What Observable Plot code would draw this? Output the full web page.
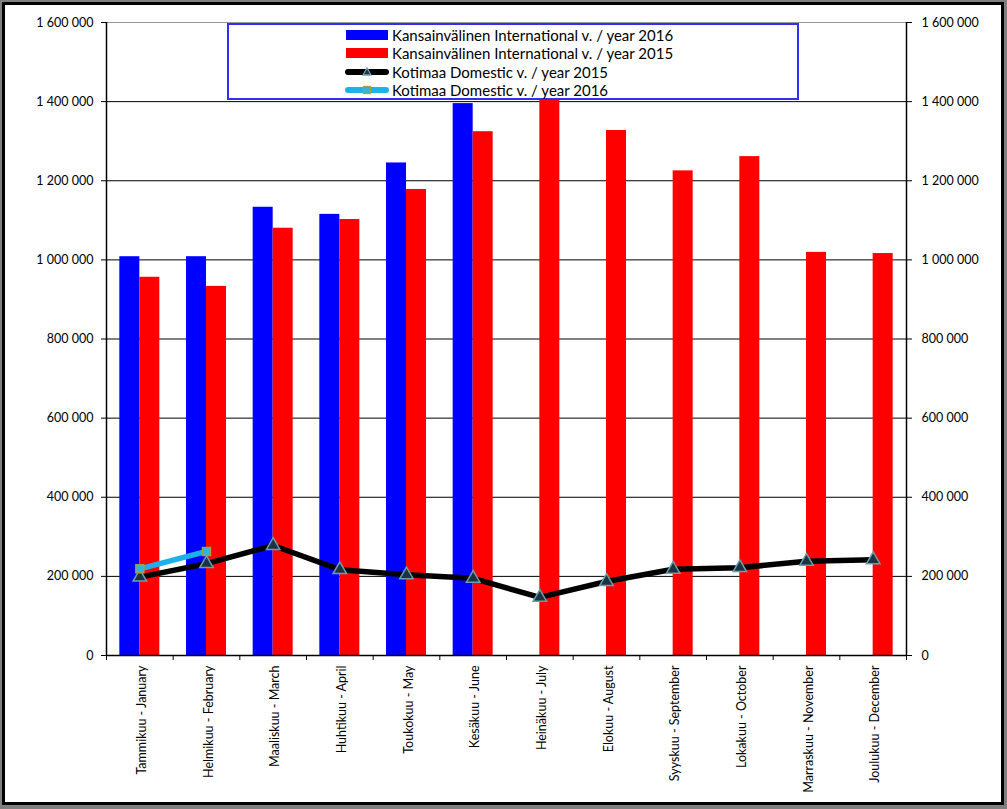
<!DOCTYPE html>
<html>
<head>
<meta charset="utf-8">
<script src="https://cdn.jsdelivr.net/npm/d3@7"></script>
<script src="https://cdn.jsdelivr.net/npm/@observablehq/plot@0.6"></script>
<style>
  html, body { margin: 0; padding: 0; background: #7f7f7f; }
  #wrap { position: relative; width: 1007px; height: 809px; overflow: hidden; background: #7f7f7f; }
  #frame { position: absolute; left: 2px; top: 2px; width: 1002px; height: 803px; border: 3px solid #000; box-sizing: border-box; background: #fff; }
  #chart { position: absolute; left: 0; top: 0; }
  #legend { position: absolute; left: 227px; top: 23px; width: 572px; height: 77px; border: 2px solid #3030ee; background: #fff; box-sizing: border-box; font-family: Lato, "Open Sans", sans-serif; font-size: 15px; color: #000; }
  .row { position: absolute; left: 116px; height: 19px; display: flex; align-items: center; white-space: nowrap; }
  .row svg { margin-right: 3px; }
</style>
</head>
<body>
<div id="wrap">
  <div id="frame"></div>
  <div id="chart"></div>
  <div id="legend"></div>
</div>
<script>
const months = [
  "Tammikuu - January", "Helmikuu - February", "Maaliskuu - March", "Huhtikuu - April",
  "Toukokuu - May", "Kesäkuu - June", "Heinäkuu - July", "Elokuu - August",
  "Syyskuu - September", "Lokakuu - October", "Marraskuu - November", "Joulukuu - December"
];
const intl2016 = [1008000, 1008000, 1133000, 1115000, 1245000, 1395000];
const intl2015 = [956000, 933000, 1080000, 1102000, 1178000, 1324000, 1410000, 1327000, 1225000, 1261000, 1019000, 1016000];
const dom2015 = [198000, 232000, 278000, 217000, 204000, 195000, 147000, 187000, 218000, 222000, 238000, 242000];
const dom2016 = [219000, 263000];
const yTicks = [0, 200000, 400000, 600000, 800000, 1000000, 1200000, 1400000, 1600000];
const seriesNames = [
  "Kansainvälinen International v. / year 2016",
  "Kansainvälinen International v. / year 2015",
  "Kotimaa Domestic v. / year 2015",
  "Kotimaa Domestic v. / year 2016"
];

const colors = { intl2016: "#0000ff", intl2015: "#ff0000", dom2015: "#000000", dom2016: "#1eb0e8" };

const W = 1007, H = 809;
const mL = 106, mR = 101, mT = 22, mB = 154;
const bw = (W - mL - mR) / months.length;
const barW = 20;

const fmt = d3.formatLocale({decimal: ",", thousands: " ", grouping: [3], currency: ["", ""]}).format(",d");

const b16 = intl2016.map((v, i) => ({month: months[i], value: v}));
const b15 = intl2015.map((v, i) => ({month: months[i], value: v}));
const l15 = dom2015.map((v, i) => ({month: months[i], value: v}));
const l16 = dom2016.map((v, i) => ({month: months[i], value: v}));

const chart = Plot.plot({
  width: W, height: H,
  marginLeft: mL, marginRight: mR, marginTop: mT, marginBottom: mB,
  style: {background: "transparent", fontFamily: "Lato, 'Open Sans', sans-serif", color: "#000"},
  x: {type: "band", domain: months, padding: 0, round: false, axis: null},
  y: {domain: [0, 1600000], axis: null},
  marks: [
    Plot.ruleY(yTicks.filter(d => d > 0 && d < 1600000), {stroke: "#000", strokeWidth: 1}),
    Plot.ruleY([1600000], {stroke: "#9a9a9a", strokeWidth: 1}),
    Plot.barY(b16, {x: "month", y: "value", fill: colors.intl2016, insetLeft: bw / 2 - barW, insetRight: bw / 2}),
    Plot.barY(b15, {x: "month", y: "value", fill: colors.intl2015, insetLeft: bw / 2, insetRight: bw / 2 - barW}),
    Plot.ruleY([0], {stroke: "#000", strokeWidth: 1.5}),
    Plot.ruleX([months[0]], {x: d => d, dx: -bw / 2, stroke: "#000", strokeWidth: 1.5}),
    Plot.ruleX([months[months.length - 1]], {x: d => d, dx: bw / 2, stroke: "#000", strokeWidth: 1.5}),
    Plot.axisY(yTicks, {anchor: "left", tickSize: 5, tickPadding: 8, tickFormat: fmt, fontSize: 12.5, label: null, stroke: "#000"}),
    Plot.axisY(yTicks, {anchor: "right", tickSize: 5, tickPadding: 10, tickFormat: fmt, fontSize: 12.5, label: null, stroke: "#000"}),
    Plot.axisX(months, {anchor: "bottom", tickSize: 5, tickFormat: () => "", dx: -bw / 2, label: null, stroke: "#000"}),
    Plot.axisX([months[months.length - 1]], {anchor: "bottom", tickSize: 5, tickFormat: () => "", dx: bw / 2, label: null, stroke: "#000"}),
    Plot.axisX(months, {anchor: "bottom", tickSize: 0, tickPadding: 10, tickRotate: -90, fontSize: 12.5, dx: 2, label: null}),
    Plot.line(l15, {x: "month", y: "value", stroke: colors.dom2015, strokeWidth: 5.5}),
    Plot.dot(l15, {x: "month", y: "value", symbol: "triangle", r: 5, fill: "#1d3440", stroke: "#6e9eae", strokeWidth: 1.5}),
    Plot.line(l16, {x: "month", y: "value", stroke: colors.dom2016, strokeWidth: 5.5}),
    Plot.dot(l16, {x: "month", y: "value", symbol: "square", r: 4.5, fill: "#30b4e6", stroke: "#a0a040", strokeWidth: 1.5})
  ]
});
document.getElementById("chart").appendChild(chart);

// Legend
const legend = document.getElementById("legend");
const swatches = [
  `<svg width="44" height="12"><rect x="1" y="1" width="42" height="10" fill="${colors.intl2016}"/></svg>`,
  `<svg width="44" height="12"><rect x="1" y="1" width="42" height="10" fill="${colors.intl2015}"/></svg>`,
  `<svg width="44" height="12"><line x1="3" y1="6" x2="41" y2="6" stroke="${colors.dom2015}" stroke-width="6" stroke-linecap="round"/><path d="M22,2 L26,9 L18,9 Z" fill="#1d3440" stroke="#6e9eae" stroke-width="1.3"/></svg>`,
  `<svg width="44" height="12"><line x1="3" y1="6" x2="41" y2="6" stroke="${colors.dom2016}" stroke-width="6" stroke-linecap="round"/><rect x="18.5" y="2.5" width="7" height="7" fill="#30b4e6" stroke="#a0a040" stroke-width="1.3"/></svg>`
];
seriesNames.forEach((name, i) => {
  const row = document.createElement("div");
  row.className = "row";
  row.style.top = (0 + i * 18.5) + "px";
  row.innerHTML = swatches[i] + `<span>${name}</span>`;
  legend.appendChild(row);
});
</script>
</body>
</html>
